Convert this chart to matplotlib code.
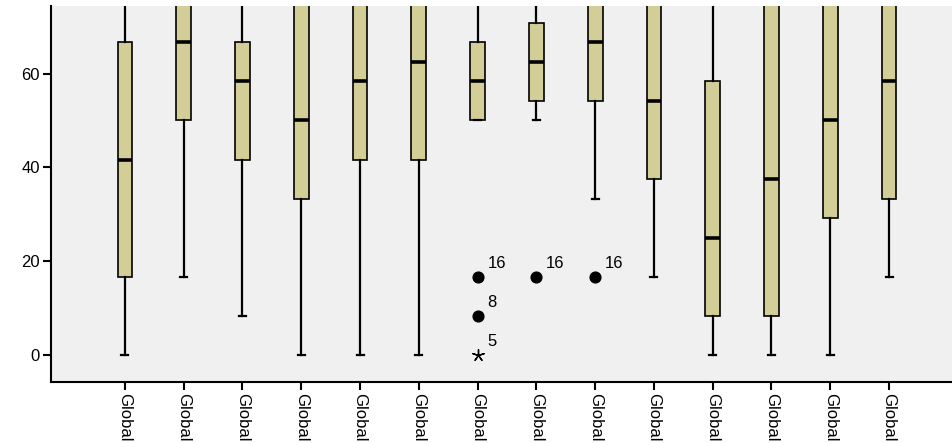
import matplotlib
matplotlib.use("Agg")
import matplotlib.pyplot as plt

plt.rcParams['font.family'] = ['Liberation Sans', 'DejaVu Sans']

categories = ["Global"] * 14
q1 = [16.67, 50, 41.67, 33.33, 41.67, 41.67, 50, 54.17, 54.17, 37.5, 8.33, 8.33, 29.17, 33.33]
med = [41.67, 66.67, 58.33, 50, 58.33, 62.5, 58.33, 62.5, 66.67, 54.17, 25, 37.5, 50, 58.33]
q3 = [66.67, 83.33, 66.67, 83.33, 83.33, 83.33, 66.67, 70.83, 83.33, 83.33, 58.33, 83.33, 83.33, 83.33]
whislo = [0, 16.67, 8.33, 0, 0, 0, 50, 50, 33.33, 16.67, 0, 0, 0, 16.67]
whishi = [100] * 14

# outliers: (box index, value, case label)
out_box = [6, 6, 7, 8]
out_val = [16.67, 8.33, 16.67, 16.67]
out_lab = ["16", "8", "16", "16"]
ext_box = [6]
ext_val = [0]
ext_lab = ["5"]

yticks = [0, 20, 40, 60]

fig = plt.figure(figsize=(9.53, 4.43), dpi=100)
W, H = 953, 443
ax = fig.add_axes([51 / W, (H - 382) / H, (W - 51) / W, (382 - 6) / H])
ax.set_facecolor('#F0F0F0')

stats = []
for i in range(len(categories)):
    stats.append(dict(med=med[i], q1=q1[i], q3=q3[i], whislo=whislo[i],
                      whishi=whishi[i], fliers=[], label=categories[i]))
pos = list(range(len(categories)))
ax.bxp(stats, positions=pos, widths=0.25, patch_artist=True, showfliers=False,
       boxprops=dict(facecolor='#D3CE97', edgecolor='black', linewidth=1.2),
       medianprops=dict(color='black', linewidth=2.6),
       whiskerprops=dict(color='black', linewidth=1.6),
       capprops=dict(color='black', linewidth=1.6),
       capwidths=0.12, zorder=3)

ax.scatter([pos[b] for b in out_box], out_val, s=60, color='black', zorder=4)
ax.scatter([pos[b] for b in ext_box], ext_val, s=70, marker=(5, 2, 0),
           color='black', linewidths=1.0, zorder=4)
for b, v, l in zip(out_box + ext_box, out_val + ext_val, out_lab + ext_lab):
    ax.annotate(l, (pos[b], v), xytext=(7, 4), textcoords='offset points',
                fontsize=12, ha='left', va='bottom', color='black')

ax.set_xlim(-1.258, 13 + 1.088)
ax.set_ylim(-5.76, 74.4)
ax.set_yticks(yticks)
ax.set_yticklabels([str(t) for t in yticks])
ax.set_xticks(pos)
ax.set_xticklabels(categories, rotation=270, fontsize=12, va='top', ha='center')
ax.tick_params(axis='both', labelsize=12, length=6, width=1.5, color='black', pad=2)
for s in ['top', 'right']:
    ax.spines[s].set_visible(False)
for s in ['left', 'bottom']:
    ax.spines[s].set_linewidth(1.5)

fig.savefig('out.png', dpi=100, facecolor='white')
